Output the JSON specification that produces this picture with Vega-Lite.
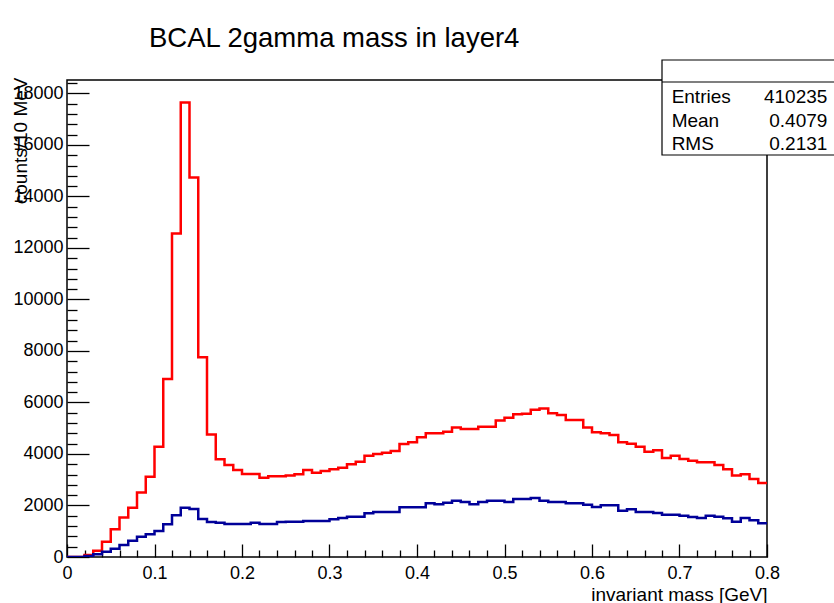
{
  "$schema": "https://vega.github.io/schema/vega-lite/v6.json",
  "width": 700,
  "height": 477,
  "autosize": {"type": "none"},
  "padding": {"left": 67, "top": 80, "right": 67, "bottom": 46},
  "background": "white",
  "config": {
    "view": {"stroke": "black", "strokeWidth": 1.5},
    "font": "Liberation Sans",
    "axis": {"grid": false, "domain": false, "tickColor": "black", "tickWidth": 1.3, "labelColor": "black", "titleColor": "black", "labelFont": "Liberation Sans", "titleFont": "Liberation Sans", "titleFontWeight": "normal"}
  },
  "title": {
    "text": "BCAL 2gamma mass in layer4",
    "anchor": "start",
    "frame": "group",
    "font": "Liberation Sans",
    "fontSize": 27.5,
    "fontWeight": "normal",
    "color": "black",
    "baseline": "alphabetic",
    "offset": 0,
    "dx": 82,
    "dy": 15
  },
  "datasets": {
    "hist": [
      {"m": 0.00, "red": 0, "blue": 0},
      {"m": 0.01, "red": 0, "blue": 0},
      {"m": 0.02, "red": 80, "blue": 40},
      {"m": 0.03, "red": 240, "blue": 110},
      {"m": 0.04, "red": 595, "blue": 207},
      {"m": 0.05, "red": 1075, "blue": 324},
      {"m": 0.06, "red": 1530, "blue": 466},
      {"m": 0.07, "red": 1915, "blue": 634},
      {"m": 0.08, "red": 2500, "blue": 789},
      {"m": 0.09, "red": 3120, "blue": 880},
      {"m": 0.10, "red": 4285, "blue": 1010},
      {"m": 0.11, "red": 6910, "blue": 1268},
      {"m": 0.12, "red": 12560, "blue": 1618},
      {"m": 0.13, "red": 17650, "blue": 1916},
      {"m": 0.14, "red": 14730, "blue": 1864},
      {"m": 0.15, "red": 7760, "blue": 1476},
      {"m": 0.16, "red": 4760, "blue": 1359},
      {"m": 0.17, "red": 3800, "blue": 1333},
      {"m": 0.18, "red": 3575, "blue": 1282},
      {"m": 0.19, "red": 3380, "blue": 1282},
      {"m": 0.20, "red": 3225, "blue": 1282},
      {"m": 0.21, "red": 3225, "blue": 1333},
      {"m": 0.22, "red": 3080, "blue": 1282},
      {"m": 0.23, "red": 3135, "blue": 1282},
      {"m": 0.24, "red": 3135, "blue": 1359},
      {"m": 0.25, "red": 3160, "blue": 1372},
      {"m": 0.26, "red": 3215, "blue": 1372},
      {"m": 0.27, "red": 3380, "blue": 1398},
      {"m": 0.28, "red": 3275, "blue": 1398},
      {"m": 0.29, "red": 3340, "blue": 1398},
      {"m": 0.30, "red": 3405, "blue": 1463},
      {"m": 0.31, "red": 3470, "blue": 1515},
      {"m": 0.32, "red": 3600, "blue": 1566},
      {"m": 0.33, "red": 3700, "blue": 1566},
      {"m": 0.34, "red": 3935, "blue": 1696},
      {"m": 0.35, "red": 4000, "blue": 1748},
      {"m": 0.36, "red": 4050, "blue": 1748},
      {"m": 0.37, "red": 4115, "blue": 1748},
      {"m": 0.38, "red": 4390, "blue": 1929},
      {"m": 0.39, "red": 4455, "blue": 1929},
      {"m": 0.40, "red": 4645, "blue": 1929},
      {"m": 0.41, "red": 4800, "blue": 2084},
      {"m": 0.42, "red": 4800, "blue": 2045},
      {"m": 0.43, "red": 4865, "blue": 2110},
      {"m": 0.44, "red": 5025, "blue": 2188},
      {"m": 0.45, "red": 4970, "blue": 2136},
      {"m": 0.46, "red": 4970, "blue": 2045},
      {"m": 0.47, "red": 5060, "blue": 2136},
      {"m": 0.48, "red": 5060, "blue": 2188},
      {"m": 0.49, "red": 5295, "blue": 2188},
      {"m": 0.50, "red": 5410, "blue": 2136},
      {"m": 0.51, "red": 5540, "blue": 2252},
      {"m": 0.52, "red": 5565, "blue": 2252},
      {"m": 0.53, "red": 5720, "blue": 2290},
      {"m": 0.54, "red": 5765, "blue": 2188},
      {"m": 0.55, "red": 5580, "blue": 2136},
      {"m": 0.56, "red": 5515, "blue": 2136},
      {"m": 0.57, "red": 5320, "blue": 2084},
      {"m": 0.58, "red": 5320, "blue": 2084},
      {"m": 0.59, "red": 5025, "blue": 2033},
      {"m": 0.60, "red": 4840, "blue": 1942},
      {"m": 0.61, "red": 4800, "blue": 2007},
      {"m": 0.62, "red": 4740, "blue": 2007},
      {"m": 0.63, "red": 4455, "blue": 1799},
      {"m": 0.64, "red": 4400, "blue": 1851},
      {"m": 0.65, "red": 4285, "blue": 1748},
      {"m": 0.66, "red": 4090, "blue": 1748},
      {"m": 0.67, "red": 4140, "blue": 1709},
      {"m": 0.68, "red": 3845, "blue": 1644},
      {"m": 0.69, "red": 3935, "blue": 1644},
      {"m": 0.70, "red": 3805, "blue": 1605},
      {"m": 0.71, "red": 3740, "blue": 1553},
      {"m": 0.72, "red": 3675, "blue": 1515},
      {"m": 0.73, "red": 3675, "blue": 1605},
      {"m": 0.74, "red": 3575, "blue": 1566},
      {"m": 0.75, "red": 3405, "blue": 1502},
      {"m": 0.76, "red": 3160, "blue": 1372},
      {"m": 0.77, "red": 3210, "blue": 1515},
      {"m": 0.78, "red": 3030, "blue": 1424},
      {"m": 0.79, "red": 2875, "blue": 1307},
      {"m": 0.80, "red": 2875, "blue": 1307}
    ]
  },
  "layer": [
    {
      "data": {"name": "hist"},
      "mark": {"type": "line", "interpolate": "step-after", "color": "#ff0000", "strokeWidth": 2.5, "clip": true},
      "encoding": {
        "x": {"field": "m", "type": "quantitative", "scale": {"domain": [0, 0.8], "nice": false, "zero": false},
          "axis": {"orient": "bottom", "values": [0, 0.1, 0.2, 0.3, 0.4, 0.5, 0.6, 0.7, 0.8], "format": "~g", "tickSize": -13, "labelPadding": 20, "labelFontSize": 18, "labelBaseline": "top", "labelFlush": false, "labelOverlap": false,
            "title": "invariant mass [GeV]", "titleFontSize": 19, "titleX": 700, "titleY": 43, "titleAlign": "right", "titleAnchor": "end", "titleBaseline": "alphabetic"}},
        "y": {"field": "red", "type": "quantitative", "scale": {"domain": [0, 18520], "nice": false},
          "axis": {"orient": "left", "values": [0, 2000, 4000, 6000, 8000, 10000, 12000, 14000, 16000, 18000], "format": "d", "tickSize": -22, "labelPadding": 26, "labelFontSize": 18, "labelBaseline": "middle", "labelFlush": false, "labelOverlap": false,
            "title": "counts/10 MeV", "titleFontSize": 19, "titleAngle": 270, "titleX": -41, "titleY": -3, "titleAlign": "right", "titleBaseline": "alphabetic"}}
      }
    },
    {
      "data": {"name": "hist"},
      "mark": {"type": "line", "interpolate": "step-after", "color": "#000099", "strokeWidth": 2.5, "clip": true},
      "encoding": {
        "x": {"field": "m", "type": "quantitative",
          "axis": {"orient": "bottom", "values": [0.02, 0.04, 0.06, 0.08, 0.12, 0.14, 0.16, 0.18, 0.22, 0.24, 0.26, 0.28, 0.32, 0.34, 0.36, 0.38, 0.42, 0.44, 0.46, 0.48, 0.52, 0.54, 0.56, 0.58, 0.62, 0.64, 0.66, 0.68, 0.72, 0.74, 0.76, 0.78], "labels": false, "tickSize": -7, "title": null}},
        "y": {"field": "blue", "type": "quantitative",
          "axis": {"orient": "left", "values": [400, 800, 1200, 1600, 2400, 2800, 3200, 3600, 4400, 4800, 5200, 5600, 6400, 6800, 7200, 7600, 8400, 8800, 9200, 9600, 10400, 10800, 11200, 11600, 12400, 12800, 13200, 13600, 14400, 14800, 15200, 15600, 16400, 16800, 17200, 17600, 18400], "labels": false, "tickSize": -10, "title": null}}
      }
    },
    {
      "data": {"values": [{}]},
      "mark": {"type": "rect", "fill": "white", "stroke": "black", "strokeWidth": 1.2},
      "encoding": {
        "x": {"datum": 0.68, "type": "quantitative", "axis": null},
        "x2": {"datum": 0.88},
        "y": {"datum": 19297, "type": "quantitative", "axis": null},
        "y2": {"datum": 15608}
      }
    },
    {
      "data": {"values": [{}]},
      "mark": {"type": "rule", "stroke": "black", "strokeWidth": 1.2},
      "encoding": {
        "x": {"datum": 0.68, "type": "quantitative", "axis": null},
        "x2": {"datum": 0.88},
        "y": {"datum": 18443, "type": "quantitative", "axis": null}
      }
    },
    {
      "data": {"values": [{}]},
      "mark": {"type": "text", "text": ["Entries", "Mean", "RMS"], "align": "left", "baseline": "alphabetic", "font": "Liberation Sans", "fontSize": 19, "lineHeight": 23.5, "color": "black"},
      "encoding": {
        "x": {"datum": 0.691, "type": "quantitative", "axis": null},
        "y": {"datum": 17609, "type": "quantitative", "axis": null}
      }
    },
    {
      "data": {"values": [{}]},
      "mark": {"type": "text", "text": ["410235", "0.4079", "0.2131"], "align": "right", "baseline": "alphabetic", "font": "Liberation Sans", "fontSize": 19, "lineHeight": 23.5, "color": "black"},
      "encoding": {
        "x": {"datum": 0.869, "type": "quantitative", "axis": null},
        "y": {"datum": 17609, "type": "quantitative", "axis": null}
      }
    }
  ],
  "resolve": {"axis": {"x": "independent", "y": "independent"}}
}
